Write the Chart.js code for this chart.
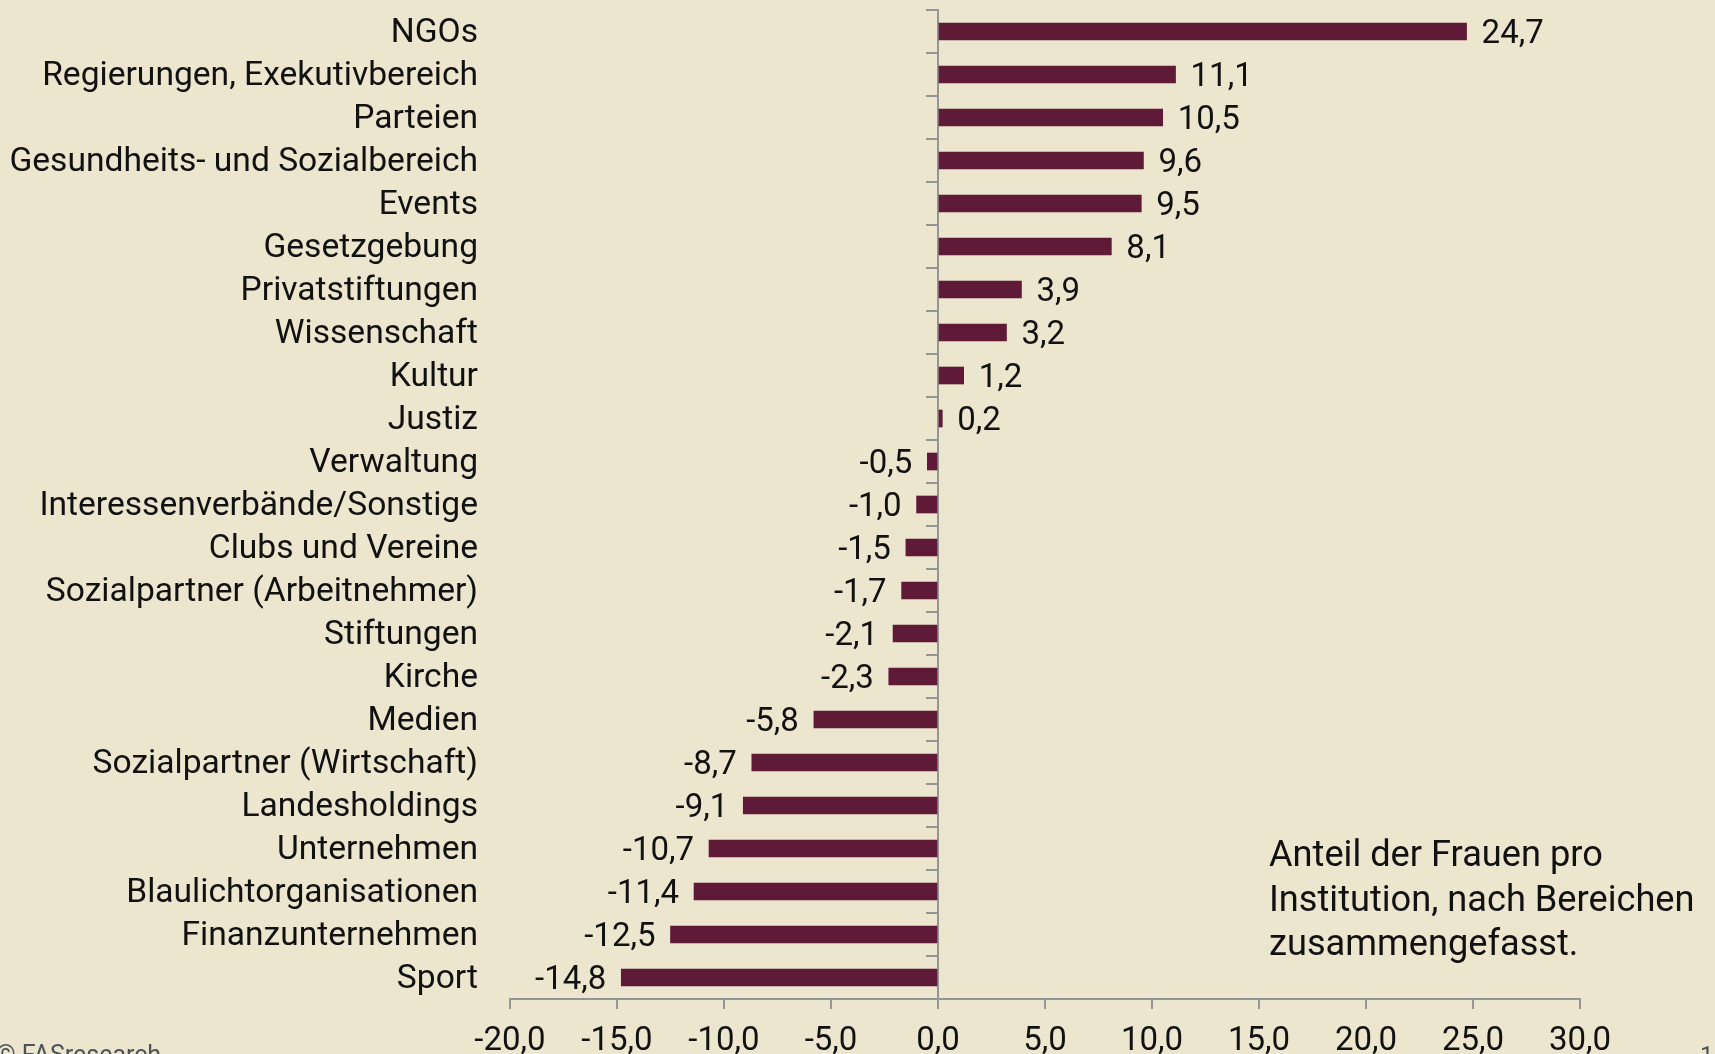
<!DOCTYPE html>
<html>
<head>
<meta charset="utf-8">
<script src="https://cdn.jsdelivr.net/npm/chart.js@4.4.1/dist/chart.umd.min.js"></script>
<style>
  html, body { margin: 0; padding: 0; background: #ede6cf; overflow: hidden; }
  #wrap { position: relative; width: 1715px; height: 1054px; }
  canvas { position: absolute; left: 0; top: 0; }
  .note { position: absolute; left: 1269px; top: 832px; font-family: Roboto, sans-serif; font-size: 36.2px; line-height: 44.6px; color: #111; white-space: nowrap; }
  .copy { position: absolute; left: -4px; top: 1040px; font-family: Roboto, sans-serif; font-size: 25px; line-height: 30px; color: #4d5258; white-space: nowrap; }
  .page { position: absolute; left: 1700px; top: 1040px; font-family: Roboto, sans-serif; font-size: 24px; line-height: 30px; color: #4d5258; }
</style>
</head>
<body>
<div id="wrap">
  <canvas id="c" width="1715" height="1054"></canvas>
  <div class="note">Anteil der Frauen pro<br>Institution, nach Bereichen<br>zusammengefasst.</div>
  <div class="copy">© FASresearch</div>
  <div class="page">1</div>
</div>
<script>
const categories = [
  "NGOs",
  "Regierungen, Exekutivbereich",
  "Parteien",
  "Gesundheits- und Sozialbereich",
  "Events",
  "Gesetzgebung",
  "Privatstiftungen",
  "Wissenschaft",
  "Kultur",
  "Justiz",
  "Verwaltung",
  "Interessenverbände/Sonstige",
  "Clubs und Vereine",
  "Sozialpartner (Arbeitnehmer)",
  "Stiftungen",
  "Kirche",
  "Medien",
  "Sozialpartner (Wirtschaft)",
  "Landesholdings",
  "Unternehmen",
  "Blaulichtorganisationen",
  "Finanzunternehmen",
  "Sport"
];
const values = [24.7, 11.1, 10.5, 9.6, 9.5, 8.1, 3.9, 3.2, 1.2, 0.2, -0.5, -1.0, -1.5, -1.7, -2.1, -2.3, -5.8, -8.7, -9.1, -10.7, -11.4, -12.5, -14.8];
const xTickMin = -20;
const xTickMax = 30;
const xTickStep = 5;

const FONT = "Roboto, sans-serif";
const fmt = v => Number(v).toFixed(1).replace('.', ',');
const AXIS = '#959595';

const valueLabels = {
  id: 'valueLabels',
  afterDatasetsDraw(chart) {
    const ctx = chart.ctx;
    const meta = chart.getDatasetMeta(0);
    ctx.save();
    ctx.font = '33px ' + FONT;
    ctx.fillStyle = '#111';
    ctx.textBaseline = 'middle';
    meta.data.forEach((el, i) => {
      const v = values[i];
      if (v >= 0) { ctx.textAlign = 'left'; ctx.fillText(fmt(v), el.x + 15, el.y + 3); }
      else { ctx.textAlign = 'right'; ctx.fillText(fmt(v), el.x - 15, el.y + 3); }
    });
    ctx.restore();
  }
};

function noPad(s) { s.paddingTop = 0; s.paddingBottom = 0; }

new Chart(document.getElementById('c'), {
  type: 'bar',
  data: {
    labels: categories,
    datasets: [{
      data: values,
      backgroundColor: '#5e1a36',
      borderWidth: 0,
      barThickness: 17,
      categoryPercentage: 1,
      yAxisID: 'y'
    }]
  },
  options: {
    indexAxis: 'y',
    responsive: false,
    animation: false,
    layout: { padding: { top: 10, right: 135, bottom: 0, left: 0 } },
    plugins: { legend: { display: false }, tooltip: { enabled: false } },
    scales: {
      x: {
        type: 'linear',
        min: xTickMin, max: xTickMax,
        ticks: {
          stepSize: xTickStep,
          callback: v => fmt(v),
          color: '#111',
          font: { family: FONT, size: 33 },
          padding: 13,
          maxRotation: 0,
          autoSkip: false
        },
        grid: { drawOnChartArea: false, drawTicks: true, tickLength: 10, color: AXIS, lineWidth: 2 },
        border: { display: true, color: AXIS, width: 2 },
        afterFit(s) { s.height = 55; s.paddingLeft = 0; s.paddingRight = 0; }
      },
      y: {
        type: 'category',
        position: 'left',
        offset: true,
        ticks: { color: '#111', font: { family: FONT, size: 33.6 }, padding: 32, autoSkip: false },
        grid: { display: false, drawTicks: false },
        border: { display: false },
        afterFit(s) {
          s.width = 510; noPad(s);
          s.getLabelItems = function (ca) {
            const items = Chart.Scale.prototype.getLabelItems.call(this, ca);
            if (!items._shifted) { items.forEach(it => { it.textOffset += 2; }); items._shifted = true; }
            return items;
          };
        }
      },
      y2: {
        type: 'category',
        axis: 'y',
        position: { x: 0 },
        offset: true,
        ticks: { display: false, autoSkip: false },
        grid: { offset: true, drawOnChartArea: false, drawTicks: true, tickLength: 11, color: AXIS, lineWidth: 2 },
        border: { display: true, color: AXIS, width: 2 },
        afterFit(s) { s.width = 0; noPad(s); }
      }
    }
  },
  plugins: [valueLabels]
});
</script>
</body>
</html>
